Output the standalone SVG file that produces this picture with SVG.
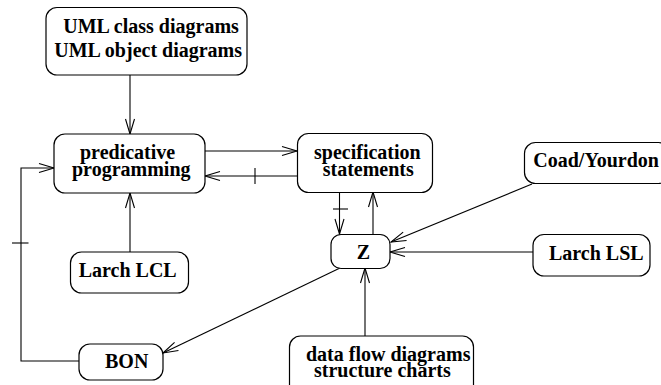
<svg xmlns="http://www.w3.org/2000/svg" width="661" height="385" viewBox="0 0 661 385">
<style>
.box{fill:#fff;stroke:#000;stroke-width:1.2}
.t{font-family:'Liberation Serif','DejaVu Serif',serif;font-weight:bold;font-size:20px;fill:#000}
.c{fill:none;stroke:#000;stroke-width:1.1}
</style>
<defs>
<marker id="a" markerUnits="userSpaceOnUse" markerWidth="16" markerHeight="10" refX="15" refY="4.5" orient="auto" overflow="visible">
<path d="M0,0 L15,4.5 L0,9" fill="none" stroke="#000" stroke-width="1.1"/>
</marker>
</defs>
<rect width="661" height="385" fill="#fff"/>
<g id="connectors">
<line class="c" x1="130" y1="75" x2="130" y2="134" marker-end="url(#a)"/>
<line class="c" x1="130" y1="252" x2="130" y2="193" marker-end="url(#a)"/>
<line class="c" x1="205" y1="151" x2="297" y2="151" marker-end="url(#a)"/>
<line class="c" x1="297" y1="176" x2="205" y2="176" marker-end="url(#a)"/>
<line class="c" x1="255" y1="168" x2="255" y2="184"/>
<line class="c" x1="339.5" y1="192" x2="339.5" y2="234" marker-end="url(#a)"/>
<line class="c" x1="333" y1="209" x2="348" y2="209"/>
<line class="c" x1="373" y1="234" x2="373" y2="192" marker-end="url(#a)"/>
<line class="c" x1="532" y1="184" x2="391" y2="242" marker-end="url(#a)"/>
<line class="c" x1="533" y1="252" x2="390" y2="252" marker-end="url(#a)"/>
<line class="c" x1="365" y1="336" x2="365" y2="268" marker-end="url(#a)"/>
<line class="c" x1="340" y1="268" x2="163" y2="353" marker-end="url(#a)"/>
<polyline class="c" points="79,361 21,361 21,168 54,168" marker-end="url(#a)"/>
<line class="c" x1="12" y1="243" x2="28.5" y2="243"/>
</g>
<g id="uml">
<rect class="box" x="46" y="7.5" width="201" height="67.5" rx="11"/>
<text class="t" x="63.3" y="32.5" font-family="Liberation Serif">UML class diagrams</text>
<text class="t" x="54.3" y="57.3">UML object diagrams</text>
</g>
<g id="predicative">
<rect class="box" x="54" y="134" width="151" height="59" rx="11"/>
<text class="t" x="80" y="159.3">predicative</text>
<text class="t" x="72" y="175.7">programming</text>
</g>
<g id="spec">
<rect class="box" x="297.5" y="133.5" width="135" height="59" rx="11"/>
<text class="t" x="314" y="159.3">specification</text>
<text class="t" x="322.7" y="176">statements</text>
</g>
<g id="coad">
<rect class="box" x="524.5" y="142.5" width="145" height="41" rx="11"/>
<text class="t" x="533.3" y="166.7">Coad/Yourdon</text>
</g>
<g id="z">
<rect class="box" x="331" y="234.5" width="59" height="34" rx="10"/>
<text class="t" x="356.7" y="259.3">Z</text>
</g>
<g id="lsl">
<rect class="box" x="533" y="234.5" width="117" height="41.5" rx="11"/>
<text class="t" x="549" y="260">Larch LSL</text>
</g>
<g id="lcl">
<rect class="box" x="70.5" y="252" width="118" height="41" rx="11"/>
<text class="t" x="78.7" y="276.7">Larch LCL</text>
</g>
<g id="bon">
<rect class="box" x="79" y="344" width="84" height="36" rx="11"/>
<text class="t" x="105" y="368.3">BON</text>
</g>
<g id="dataflow">
<rect class="box" x="289.5" y="336" width="184" height="60" rx="11"/>
<text class="t" x="306" y="361">data flow diagrams</text>
<text class="t" x="314" y="376.7">structure charts</text>
</g>
</svg>
